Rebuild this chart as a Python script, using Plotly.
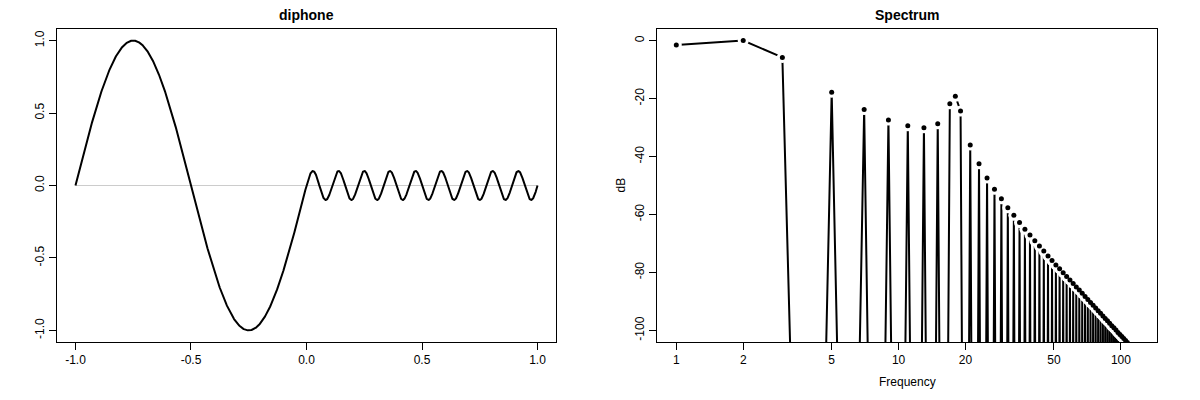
import numpy as np
import plotly.graph_objects as go

# ---------------- Data ----------------
# Left panel "diphone": two sine segments
seg_start = [-1.0, 0.0]
seg_end = [0.0, 1.0]
seg_amp = [1.0, 0.1]
seg_cycles = [1, 9]

# Right panel "Spectrum": dB value at each frequency bin 1..120
freq = list(range(1, 121))
spec_db = [
    -1.5, 0.0, -5.8, -360, -17.8, -300, -23.8, -320, -27.4, -320,
    -29.4, -320, -30.1, -320, -28.7, -320, -21.8, -19.2, -24.3, -320,
    -36.0, -320, -42.5, -320, -47.4, -320, -51.3, -320, -54.6, -320,
    -57.7, -320, -60.3, -320, -62.8, -320, -65.1, -320, -67.1, -320,
    -69.1, -320, -70.9, -320, -72.6, -320, -74.3, -320, -75.9, -320,
    -77.4, -320, -78.7, -320, -80.1, -320, -81.4, -320, -82.6, -320,
    -83.8, -320, -85.0, -320, -86.1, -320, -87.2, -320, -88.3, -320,
    -89.3, -320, -90.4, -320, -91.3, -320, -92.3, -320, -93.2, -320,
    -94.1, -320, -95.0, -320, -95.9, -320, -96.7, -320, -97.5, -320,
    -98.4, -320, -99.1, -320, -99.9, -320, -100.7, -320, -101.4, -320,
    -102.1, -320, -102.8, -320, -103.5, -320, -104.2, -320, -104.9, -320,
    -105.6, -320, -106.2, -320, -106.8, -320, -107.5, -320, -108.1, -320,
]

left_xticks = [-1.0, -0.5, 0.0, 0.5, 1.0]
left_yticks = [-1.0, -0.5, 0.0, 0.5, 1.0]
right_xticks = [1, 2, 5, 10, 20, 50, 100]
right_yticks = [-100, -80, -60, -40, -20, 0]

# ---------------- Build wave ----------------
wx, wy = [], []
for s, e, a, c in zip(seg_start, seg_end, seg_amp, seg_cycles):
    t = np.linspace(s, e, 1200)
    wx.extend(t.tolist())
    wy.extend((a * np.sin(2 * np.pi * c * (t - s) / (e - s))).tolist())

FONT = "Liberation Sans, Arial, Helvetica, sans-serif"

fig = go.Figure()

# zero line (gray)
fig.add_trace(go.Scatter(x=[seg_start[0], seg_end[-1]], y=[0, 0], mode="lines",
                         line=dict(color="#cccccc", width=1), xaxis="x", yaxis="y",
                         hoverinfo="skip"))
fig.add_trace(go.Scatter(x=wx, y=wy, mode="lines", line=dict(color="black", width=2),
                         xaxis="x", yaxis="y"))

# spectrum: line, white gap discs, black points (R type="b")
fig.add_trace(go.Scatter(x=freq, y=spec_db, mode="lines", line=dict(color="black", width=2),
                         xaxis="x2", yaxis="y2"))
fig.add_trace(go.Scatter(x=freq, y=spec_db, mode="markers",
                         marker=dict(color="white", size=11, line=dict(width=0)),
                         xaxis="x2", yaxis="y2", hoverinfo="skip"))
fig.add_trace(go.Scatter(x=freq, y=spec_db, mode="markers",
                         marker=dict(color="black", size=5, line=dict(width=0)),
                         xaxis="x2", yaxis="y2"))

ydom = [1 - 342 / 400, 1 - 29 / 400]
x1dom = [57 / 1200, 556 / 1200]
x2dom = [657 / 1200, 1157 / 1200]

axis_common = dict(showline=True, mirror=True, linecolor="black", linewidth=1,
                   ticks="outside", ticklen=7, tickcolor="black", tickwidth=1,
                   showgrid=False, zeroline=False,
                   tickfont=dict(family=FONT, size=12, color="black"))

fig.update_layout(
    width=1200, height=400,
    margin=dict(l=0, r=0, t=0, b=0),
    paper_bgcolor="white", plot_bgcolor="white",
    showlegend=False,
    xaxis=dict(domain=x1dom, anchor="y", range=[-1.08, 1.08],
               tickvals=left_xticks, ticktext=[f"{v:.1f}" for v in left_xticks], **axis_common),
    yaxis=dict(domain=ydom, anchor="x", range=[-1.08, 1.08],
               tickvals=left_yticks, ticktext=[f"{v:.1f}" for v in left_yticks],
               tickangle=-90, **axis_common),
    xaxis2=dict(domain=x2dom, anchor="y2", type="log", range=[-0.0868, 2.1624],
                tickvals=right_xticks, ticktext=[str(v) for v in right_xticks], **axis_common),
    yaxis2=dict(domain=ydom, anchor="x2", range=[-104, 4],
                tickvals=right_yticks, ticktext=[str(v) for v in right_yticks],
                tickangle=-90, **axis_common),
    annotations=[
        dict(text="<b>diphone</b>", x=sum(x1dom) / 2, y=1 - 15 / 400, xref="paper", yref="paper",
             showarrow=False, xanchor="center", yanchor="middle",
             font=dict(family=FONT, size=14, color="black")),
        dict(text="<b>Spectrum</b>", x=sum(x2dom) / 2, y=1 - 15 / 400, xref="paper", yref="paper",
             showarrow=False, xanchor="center", yanchor="middle",
             font=dict(family=FONT, size=14, color="black")),
        dict(text="Frequency", x=sum(x2dom) / 2, y=1 - 382 / 400, xref="paper", yref="paper",
             showarrow=False, xanchor="center", yanchor="middle",
             font=dict(family=FONT, size=12, color="black")),
        dict(text="dB", x=620 / 1200, y=sum(ydom) / 2, xref="paper", yref="paper",
             showarrow=False, xanchor="center", yanchor="middle", textangle=-90,
             font=dict(family=FONT, size=12, color="black")),
    ],
)

fig.write_html("out.html", config={"displayModeBar": False},
               post_script="document.body.style.margin='0px';")
